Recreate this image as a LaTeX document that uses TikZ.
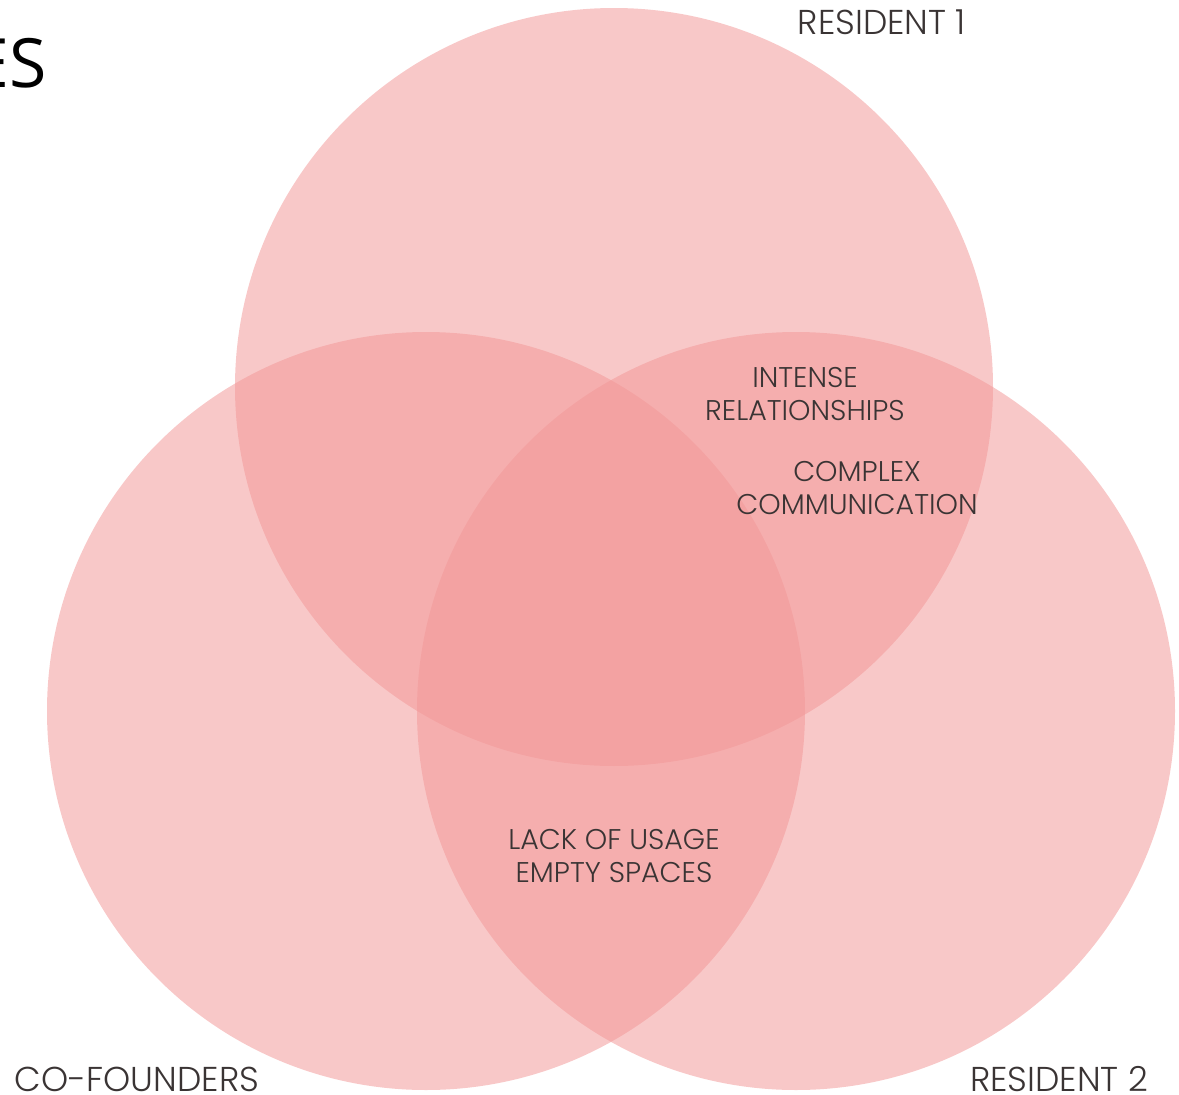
\documentclass[tikz,border=0pt]{standalone}
\usepackage{fontspec}
\setmainfont{Open Sans}
\newfontfamily\thinfont{Poppins Light}
\definecolor{vennpink}{RGB}{242,151,151}
\definecolor{labelgray}{RGB}{58,52,52}
\tikzset{
  venn/.style={circle, draw=none, fill=vennpink, fill opacity=0.53, minimum size=758pt, inner sep=0pt},
  outerlabel/.style={text=labelgray, font=\thinfont\fontsize{34.5}{34.5}\selectfont, inner sep=0pt, anchor=base},
  innerlabel/.style={text=labelgray, font=\thinfont\fontsize{28.5}{33}\selectfont, align=center, inner sep=0pt},
}
\begin{document}
\begin{tikzpicture}[x=1pt,y=-1pt]
\useasboundingbox (0,0) rectangle (1179,1095);
\node[venn] (res1) at (614,387) {};
\node[venn] (cof) at (426,711) {};
\node[venn] (res2) at (796,711) {};
\node[anchor=base east, inner sep=0pt, font=\fontsize{68}{68}\selectfont] (title) at (47,87) {ES};
\node[outerlabel] (l1) at (882,34) {RESIDENT 1};
\node[outerlabel] (l2) at (137,1091) {CO-FOUNDERS};
\node[outerlabel] (l3) at (1059,1091) {RESIDENT 2};
\node[innerlabel] (t1) at (805,394) {INTENSE\\RELATIONSHIPS};
\node[innerlabel] (t2) at (857,488) {COMPLEX\\COMMUNICATION};
\node[innerlabel] (t3) at (614,856) {LACK OF USAGE\\EMPTY SPACES};
\end{tikzpicture}
\end{document}
